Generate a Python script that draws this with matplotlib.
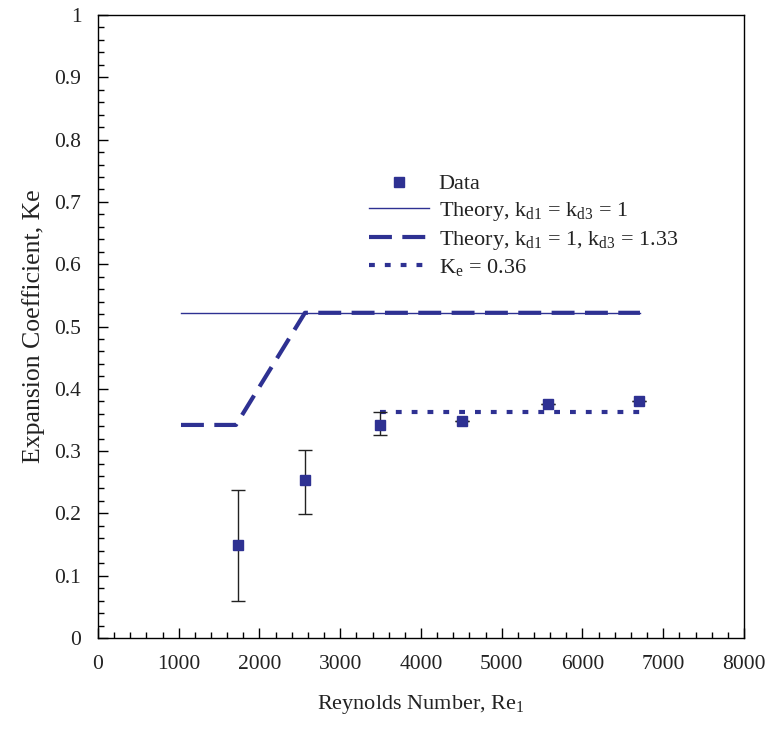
import matplotlib
matplotlib.use("Agg")
import matplotlib.pyplot as plt
from matplotlib.ticker import MultipleLocator, FuncFormatter

plt.rcParams['font.family'] = ['Liberation Serif', 'DejaVu Serif']
plt.rcParams['mathtext.fontset'] = 'custom'
plt.rcParams['mathtext.rm'] = 'Liberation Serif'
plt.rcParams['mathtext.it'] = 'Liberation Serif:italic'

# Data
re_data = [1734, 2563, 3492, 4508, 5573, 6700]
ke_data = [0.149, 0.254, 0.342, 0.349, 0.376, 0.380]
err_low = [0.089, 0.055, 0.016, 0, 0, 0]
err_high = [0.088, 0.048, 0.020, 0, 0, 0]

theory1_re = [1028, 6712]
theory1_ke = [0.522, 0.522]

theory2_re = [1028, 1709, 2563, 6712]
theory2_ke = [0.342, 0.342, 0.522, 0.522]

ke036_re = [3492, 6712]
ke036_ke = [0.363, 0.363]

navy = '#2E3192'
text_color = '#222222'

fig = plt.figure(figsize=(7.72, 7.31), dpi=100)
ax = fig.add_axes([0.1269, 0.1272, 0.8368, 0.8523])

ax.plot(theory1_re, theory1_ke, color=navy, lw=1.0,
        label=r'Theory, k$_\mathregular{d1}$ = k$_\mathregular{d3}$ = 1')
ax.plot(theory2_re, theory2_ke, color=navy, lw=3.0, dashes=(5.5, 2.5),
        label=r'Theory, k$_\mathregular{d1}$ = 1, k$_\mathregular{d3}$ = 1.33')
ax.plot(ke036_re, ke036_ke, color=navy, lw=3.0, dashes=(1.4, 2.4),
        label=r'K$_\mathregular{e}$ = 0.36')
ax.errorbar(re_data, ke_data, yerr=[err_low, err_high], fmt='none',
            ecolor='#222222', elinewidth=1.0, capsize=5, capthick=1.0)
ax.plot(re_data, ke_data, 's', color=navy, markersize=6.5, label='Data', zorder=5)

ax.set_xlim(0, 8000)
ax.set_ylim(0, 1)
ax.xaxis.set_major_locator(MultipleLocator(1000))
ax.xaxis.set_minor_locator(MultipleLocator(200))
ax.yaxis.set_major_locator(MultipleLocator(0.1))
ax.yaxis.set_minor_locator(MultipleLocator(0.02))
ax.yaxis.set_major_formatter(FuncFormatter(lambda v, p: '0' if abs(v) < 1e-9 else ('1' if abs(v-1) < 1e-9 else f'{v:.1f}')))
ax.tick_params(which='both', direction='in', labelsize=15.5, top=False, right=False,
               labelcolor=text_color)
ax.tick_params(which='major', length=7, width=1.0)
ax.tick_params(which='minor', length=4, width=1.0)
ax.tick_params(axis='x', pad=12)
ax.tick_params(axis='y', pad=12)
for s in ax.spines.values():
    s.set_linewidth(1.0)

ax.set_xlabel(r'Reynolds Number, Re$_\mathregular{1}$', fontsize=16, labelpad=14,
              color=text_color)
ax.set_ylabel('Expansion Coefficient, Ke', fontsize=18.5, labelpad=7, color=text_color)

h, l = ax.get_legend_handles_labels()
order = [3, 0, 1, 2]
leg = ax.legend([h[i] for i in order], [l[i] for i in order], loc='upper left',
                bbox_to_anchor=(0.42, 0.745), frameon=False, fontsize=16,
                handlelength=2.7, handletextpad=0.42, labelspacing=0.25, borderpad=0,
                borderaxespad=0)
for t in leg.get_texts():
    t.set_color(text_color)

fig.savefig('out.png', dpi=100)
